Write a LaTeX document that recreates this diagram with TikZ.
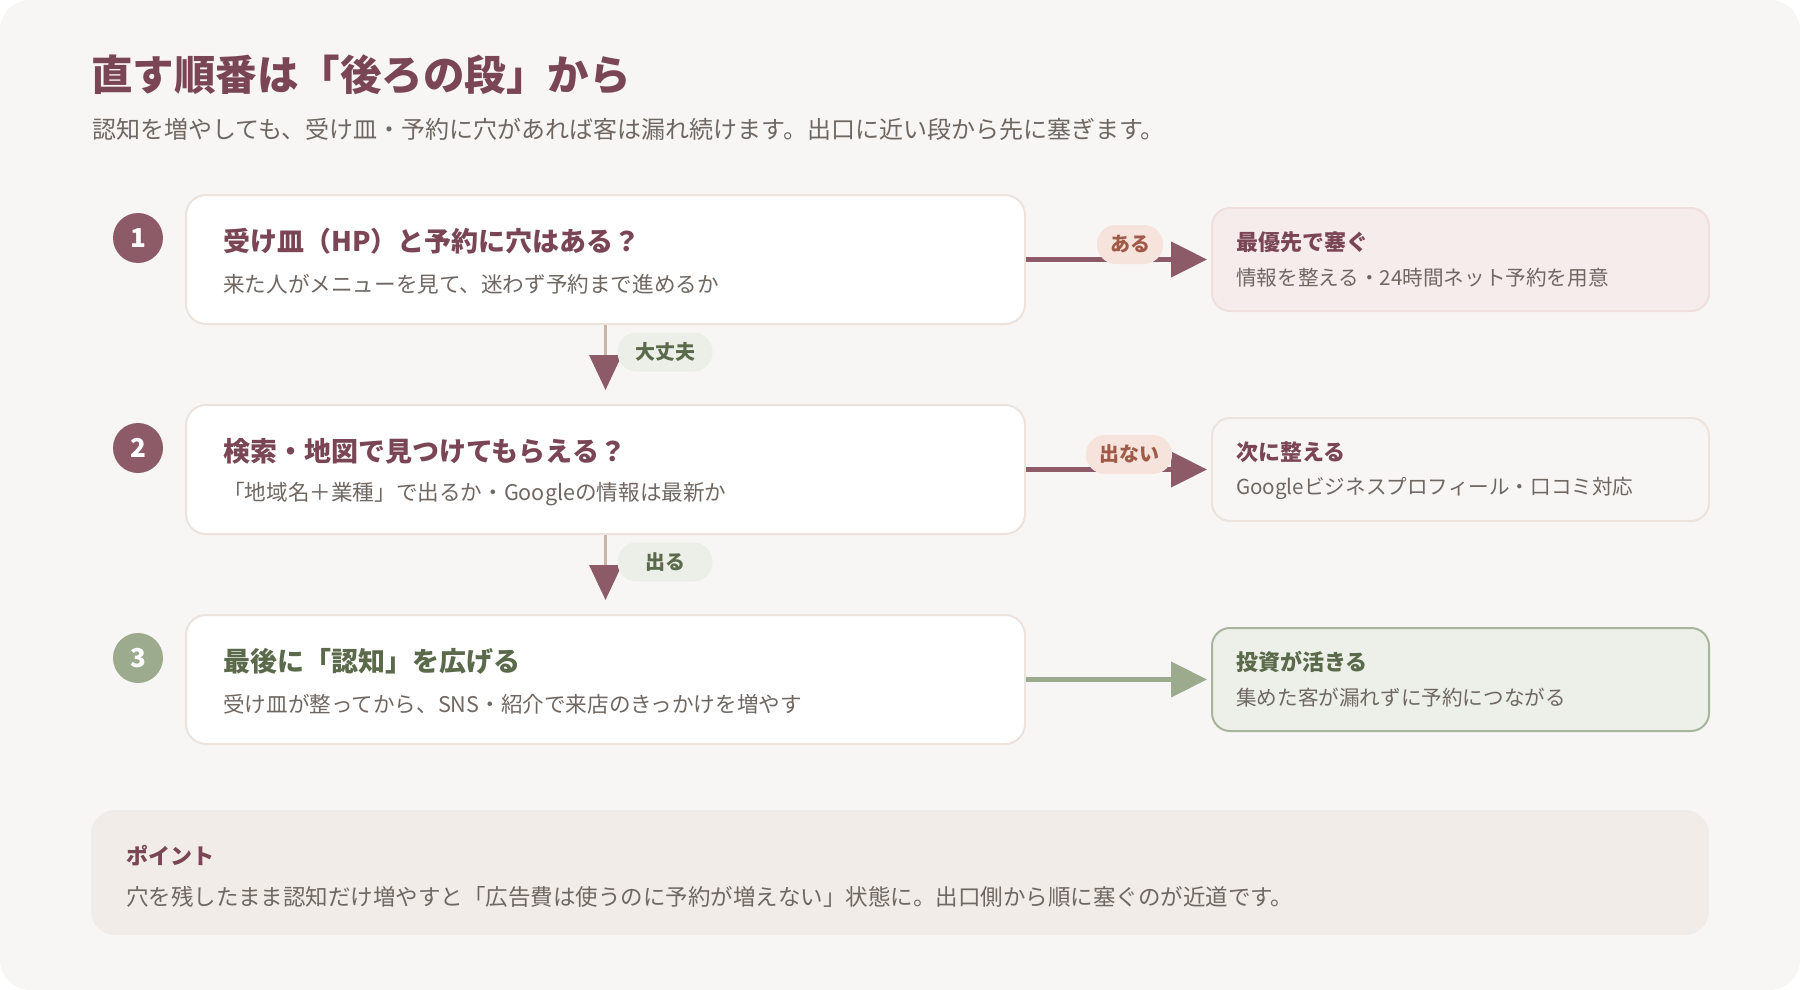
\documentclass[tikz,border=0pt]{standalone}
\usepackage{fontspec}
\setmainfont{Noto Sans CJK JP}
\usetikzlibrary{arrows.meta}
\definecolor{pagebg}{HTML}{F8F6F4}
\definecolor{plumtext}{HTML}{7A4656}
\definecolor{plum}{HTML}{8D5A68}
\definecolor{sage}{HTML}{9CAA8E}
\definecolor{greentext}{HTML}{5A6A4A}
\definecolor{graytext}{HTML}{6F6762}
\definecolor{tanline}{HTML}{C9B6A6}
\definecolor{peach}{HTML}{F6E4DC}
\definecolor{rust}{HTML}{A05A48}
\definecolor{greenpill}{HTML}{EBEFE7}
\definecolor{pinkfill}{HTML}{F7ECEC}
\definecolor{pinkborder}{HTML}{EFE0DE}
\definecolor{greenfill}{HTML}{EDF0E9}
\definecolor{greenborder}{HTML}{A8B59C}
\definecolor{notefill}{HTML}{F1ECE8}
\definecolor{boxborder}{HTML}{EBE3DD}
\tikzset{
  fsz/.style={font=\fontsize{#1}{#1}\selectfont},
  fszb/.style={font=\fontsize{#1}{#1}\selectfont\bfseries},
  stepbox/.style={draw=boxborder, line width=2pt, fill=white, rounded corners=20pt,
    minimum width=839pt, minimum height=129pt, inner sep=0pt},
  resbox/.style={line width=2pt, rounded corners=18pt,
    minimum width=497pt, minimum height=103pt, inner sep=0pt},
  numcirc/.style={circle, minimum size=50pt, inner sep=0pt, text=white, fszb=26pt},
  lbl/.style={anchor=west, inner sep=0pt},
  hpill/.style={fill=peach, text=rust, rounded corners=19pt, minimum height=39pt,
    inner xsep=13pt, inner ysep=0pt, fszb=20pt},
  vpill/.style={fill=greenpill, text=greentext, rounded corners=19pt, minimum height=39pt,
    minimum width=95pt, inner sep=0pt, fszb=20pt},
  harrow/.style={line width=4.5pt, -{Triangle[length=36pt,width=35pt]}},
  varrow/.style={draw=tanline, line width=3.5pt, -{Triangle[length=35pt,width=32pt,color=plum]}},
}
\begin{document}
\begin{tikzpicture}[x=1pt,y=-1pt]
\useasboundingbox (0,0) rectangle (1800,990);
\fill[white] (0,0) rectangle (1800,990);
\fill[pagebg, rounded corners=30pt] (0,0) rectangle (1800,990);

% heading
\node[lbl, text=plumtext, fszb=41.5pt] (title) at (91,75) {直す順番は「後ろの段」から};
\node[lbl, text=graytext, fsz=24pt] (sub) at (92,129) {認知を増やしても、受け皿・予約に穴があれば客は漏れ続けます。出口に近い段から先に塞ぎます。};

% step boxes
\node[stepbox] (b1) at (605.5,259.5) {};
\node[stepbox] (b2) at (605.5,469.5) {};
\node[stepbox] (b3) at (605.5,679.5) {};

\node[numcirc, fill=plum] (n1) at (138,238) {1};
\node[numcirc, fill=plum] (n2) at (138,448) {2};
\node[numcirc, fill=sage] (n3) at (138,658) {3};

\node[lbl, text=plumtext, fszb=27pt] (t1) at (223,241) {受け皿（HP）と予約に穴はある？};
\node[lbl, text=graytext, fsz=21.6pt] (s1) at (223,284) {来た人がメニューを見て、迷わず予約まで進めるか};
\node[lbl, text=plumtext, fszb=27pt] (t2) at (223,451) {検索・地図で見つけてもらえる？};
\node[lbl, text=graytext, fsz=21.6pt] (s2) at (223,494) {「地域名＋業種」で出るか・Googleの情報は最新か};
\node[lbl, text=greentext, fszb=27pt] (t3) at (223,661) {最後に「認知」を広げる};
\node[lbl, text=graytext, fsz=21.6pt] (s3) at (223,704) {受け皿が整ってから、SNS・紹介で来店のきっかけを増やす};

% result boxes
\node[resbox, draw=pinkborder, fill=pinkfill] (r1) at (1460.5,259.5) {};
\node[resbox, draw=boxborder, fill=pagebg] (r2) at (1460.5,469.5) {};
\node[resbox, draw=greenborder, fill=greenfill] (r3) at (1460.5,679.5) {};

\node[lbl, text=plumtext, fszb=22pt] (rt1) at (1236,242) {最優先で塞ぐ};
\node[lbl, text=graytext, fsz=20.6pt] (rs1) at (1236,278) {情報を整える・24時間ネット予約を用意};
\node[lbl, text=plumtext, fszb=22pt] (rt2) at (1236,452) {次に整える};
\node[lbl, text=graytext, fsz=20.6pt] (rs2) at (1236,488) {Googleビジネスプロフィール・口コミ対応};
\node[lbl, text=greentext, fszb=22pt] (rt3) at (1236,662) {投資が活きる};
\node[lbl, text=graytext, fsz=20.6pt] (rs3) at (1236,698) {集めた客が漏れずに予約につながる};

% arrow tips
\coordinate (h1) at (1207,259.5);
\coordinate (h2) at (1207,469.5);
\coordinate (h3) at (1207,679.5);
\coordinate (v1) at (605.5,390);
\coordinate (v2) at (605.5,600);

\draw[harrow, draw=plum, fill=plum] (b1.east) -- (h1);
\draw[harrow, draw=plum, fill=plum] (b2.east) -- (h2);
\draw[harrow, draw=sage, fill=sage] (b3.east) -- (h3);
\draw[varrow] (b1.south) -- (v1);
\draw[varrow] (b2.south) -- (v2);

% labels
\node[hpill] (p1) at (1130,244.5) {ある};
\node[hpill] (p2) at (1129,454.5) {出ない};
\node[vpill] (p3) at (665,352) {大丈夫};
\node[vpill] (p4) at (665,562) {出る};

% note
\node[fill=notefill, rounded corners=24pt, minimum width=1618pt, minimum height=125pt, inner sep=0pt] (note) at (900,872.5) {};
\node[lbl, text=plumtext, fszb=22pt] (nt) at (126,856) {ポイント};
\node[lbl, text=graytext, fsz=22.5pt] (ns) at (126,897) {穴を残したまま認知だけ増やすと「広告費は使うのに予約が増えない」状態に。出口側から順に塞ぐのが近道です。};
\end{tikzpicture}
\end{document}
